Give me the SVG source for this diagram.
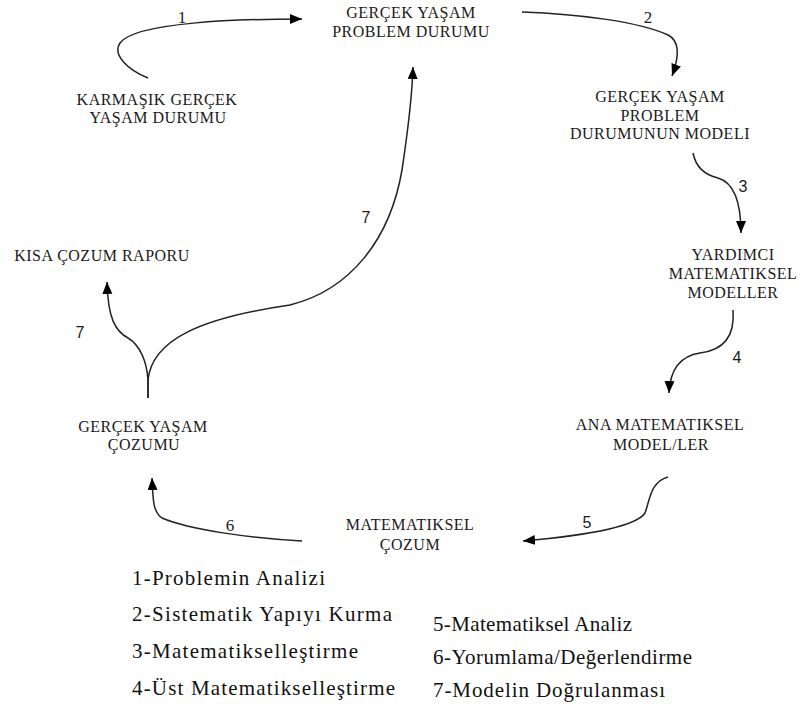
<svg xmlns="http://www.w3.org/2000/svg" width="802" height="704" viewBox="0 0 802 704">
<defs>
<marker id="ah" markerUnits="userSpaceOnUse" markerWidth="14" markerHeight="12" refX="12" refY="5" orient="auto">
<path d="M0,0 L12,5 L0,10 Z" fill="#000"/>
</marker>
<style>
.n{font-family:"Liberation Serif","Times New Roman",serif;font-size:16px;letter-spacing:0.5px;fill:#1a1a1a;text-anchor:middle}
.c{fill:none;stroke:#222;stroke-width:1.5}
.ls{font-family:"Liberation Serif","Times New Roman",serif;font-size:17px;fill:#1a1a1a;text-anchor:middle}
.la{font-family:"Liberation Sans",Arial,sans-serif;font-size:16px;fill:#1a1a1a;text-anchor:middle}
.lg{font-family:"Liberation Serif","Times New Roman",serif;font-size:21px;fill:#111}
</style>
</defs>
<rect width="802" height="704" fill="#fff"/>
<g id="connectors">
<path class="c" d="M148,78 C128,70 112,55 120,43 C135,22 240,19 302,19" marker-end="url(#ah)"/>
<path class="c" d="M522,12 C580,14 640,22 668,35 C682,42 678,60 672,76" marker-end="url(#ah)"/>
<path class="c" d="M693,153 C696,168 705,175 718,178 C735,183 741,205 741,233" marker-end="url(#ah)"/>
<path class="c" d="M733,310 C735,335 725,350 700,353 C680,356 670,370 669,393" marker-end="url(#ah)"/>
<path class="c" d="M668,477 C650,482 650,500 645,513 C635,528 580,536 523,541" marker-end="url(#ah)"/>
<path class="c" d="M302,541 C250,538 190,530 162,518 C153,512 153,500 152,478" marker-end="url(#ah)"/>
<path class="c" d="M148,398 L148,380 C152,340 200,318 290,305 C350,290 390,240 402,170 C408,130 412,100 413,67" marker-end="url(#ah)"/>
<path class="c" d="M148,398 L148,380 C147,362 140,345 128,338 C115,331 108,318 107,282" marker-end="url(#ah)"/>
<text class="ls" x="182" y="23">1</text>
<text class="ls" x="648" y="23">2</text>
<text class="la" x="743" y="192">3</text>
<text class="la" x="737" y="363">4</text>
<text class="la" x="587" y="528">5</text>
<text class="ls" x="230" y="531">6</text>
<text class="la" x="366" y="223">7</text>
<text class="la" x="80" y="338">7</text>
</g>
<g id="n1"><text class="n" x="411" y="18">GERÇEK YAŞAM</text><text class="n" x="411" y="37">PROBLEM DURUMU</text></g>
<g id="n2"><text class="n" x="157" y="105">KARMAŞIK GERÇEK</text><text class="n" x="158" y="123">YAŞAM DURUMU</text></g>
<g id="n3"><text class="n" x="660" y="102">GERÇEK YAŞAM</text><text class="n" x="660" y="121">PROBLEM</text><text class="n" x="660" y="139">DURUMUNUN MODELI</text></g>
<g id="n4"><text class="n" x="733" y="260">YARDIMCI</text><text class="n" x="733" y="279">MATEMATIKSEL</text><text class="n" x="733" y="298">MODELLER</text></g>
<g id="n5"><text class="n" x="660" y="430">ANA MATEMATIKSEL</text><text class="n" x="661" y="450">MODEL/LER</text></g>
<g id="n6"><text class="n" x="410" y="530">MATEMATIKSEL</text><text class="n" x="410" y="550">ÇOZUM</text></g>
<g id="n7"><text class="n" x="143" y="432">GERÇEK YAŞAM</text><text class="n" x="144" y="450">ÇOZUMU</text></g>
<g id="n8"><text class="n" x="102" y="261">KISA ÇOZUM RAPORU</text></g>
<g id="legend">
<text class="lg" x="132" y="585" textLength="193">1-Problemin Analizi</text>
<text class="lg" x="132" y="621" textLength="260">2-Sistematik Yapıyı Kurma</text>
<text class="lg" x="132" y="658" textLength="226">3-Matematikselleştirme</text>
<text class="lg" x="132" y="695" textLength="263">4-Üst Matematikselleştirme</text>
<text class="lg" x="433" y="631" textLength="199">5-Matematiksel Analiz</text>
<text class="lg" x="433" y="664" textLength="259">6-Yorumlama/Değerlendirme</text>
<text class="lg" x="433" y="697" textLength="232">7-Modelin Doğrulanması</text>
</g>
</svg>
